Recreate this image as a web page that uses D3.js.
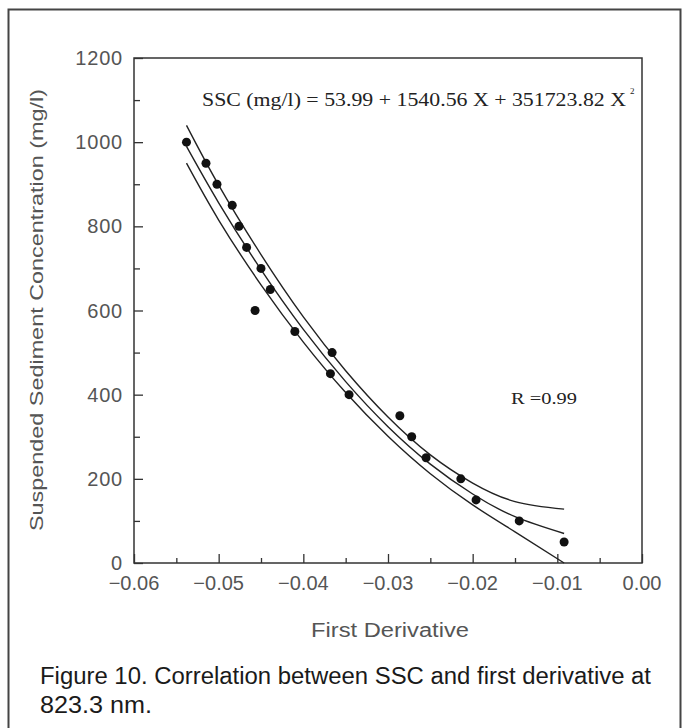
<!DOCTYPE html>
<html><head><meta charset="utf-8">
<script src="https://cdn.jsdelivr.net/npm/d3@7"></script>
<style>body{margin:0;background:#fff}</style>
</head><body>
<script>
// Observations: SSC (mg/l) vs first derivative
const firstDeriv = [-0.0538,-0.0515,-0.0502,-0.0484,-0.0476,-0.0467,-0.0450,-0.0439,-0.0457,-0.0410,-0.0366,-0.0368,-0.0346,-0.0286,-0.0272,-0.0255,-0.0214,-0.0196,-0.0145,-0.0092];
const ssc        = [1000,950,900,850,800,750,700,650,600,550,500,450,400,350,300,250,200,150,100,50];
// Fitted curve and band
const curveX = [-0.0538,-0.050,-0.045,-0.040,-0.035,-0.030,-0.025,-0.020,-0.015,-0.0092];
const fitY   = [990,856,697,555,431,324,235,164,110,70];
const upperY = [1040,898,733,585,457,347,257,190,146,128];
const lowerY = [950,815,661,525,405,301,212,138,74,0];
const xTicks = [-0.06,-0.05,-0.04,-0.03,-0.02,-0.01,0.00];
const xMinor = [-0.055,-0.045,-0.035,-0.025,-0.015,-0.005];
const yTicks = [0,200,400,600,800,1000,1200];
const yMinor = [100,300,500,700,900,1100];
const equation = "SSC (mg/l) = 53.99 + 1540.56 X + 351723.82 X";
const rLabel = "R =0.99";
const xTitle = "First Derivative";
const yTitle = "Suspended Sediment Concentration (mg/l)";
const caption = ["Figure 10. Correlation between SSC and first derivative at","823.3 nm."];

const W = 682, H = 728;
const svg = d3.select("body").append("svg").attr("width",W).attr("height",H);

// outer frame
svg.append("path").attr("d","M8.5,740 L8.5,9.5 L680.5,9.5 L680.5,740")
  .attr("fill","none").attr("stroke","#444").attr("stroke-width",2);

const x = d3.scaleLinear().domain([-0.06,0]).range([134,642]);
const y = d3.scaleLinear().domain([0,1200]).range([563,58]);

const sans = "'Liberation Sans', Arial, sans-serif";
const narrow = "'Liberation Sans Narrow', 'Liberation Sans', Arial, sans-serif";
const serif = "'Liberation Serif', 'Times New Roman', serif";
const grey = "#555";

// plot frame
svg.append("rect").attr("x",x(-0.06)).attr("y",y(1200))
  .attr("width",x(0)-x(-0.06)).attr("height",y(0)-y(1200))
  .attr("fill","none").attr("stroke","#333").attr("stroke-width",1.5);

// x axis ticks (inward)
const gx = svg.append("g").attr("transform",`translate(0,${y(0)})`)
  .call(d3.axisTop(x).tickValues(xTicks).tickSize(9).tickFormat(""));
gx.select(".domain").remove();
gx.selectAll("line").attr("stroke","#333").attr("stroke-width",1.3);
const gxm = svg.append("g").attr("transform",`translate(0,${y(0)})`)
  .call(d3.axisTop(x).tickValues(xMinor).tickSize(5).tickFormat(""));
gxm.select(".domain").remove();
gxm.selectAll("line").attr("stroke","#333").attr("stroke-width",1.3);

svg.append("g").selectAll("text").data(xTicks).join("text")
  .attr("x",d=>x(d)).attr("y",590)
  .attr("text-anchor","middle")
  .attr("font-family",sans).attr("font-size",20).attr("fill",grey)
  .text(d=>d===0?"0.00":"\u2212"+Math.abs(d).toFixed(2));

// y axis ticks (inward)
const gy = svg.append("g").attr("transform",`translate(${x(-0.06)},0)`)
  .call(d3.axisRight(y).tickValues(yTicks).tickSize(9).tickFormat(""));
gy.select(".domain").remove();
gy.selectAll("line").attr("stroke","#333").attr("stroke-width",1.3);
const gym = svg.append("g").attr("transform",`translate(${x(-0.06)},0)`)
  .call(d3.axisRight(y).tickValues(yMinor).tickSize(6).tickFormat(""));
gym.select(".domain").remove();
gym.selectAll("line").attr("stroke","#333").attr("stroke-width",1.3);

svg.append("g").selectAll("text").data(yTicks).join("text")
  .attr("x",123).attr("y",d=>y(d)+7)
  .attr("text-anchor","end")
  .attr("font-family",sans).attr("font-size",20).attr("fill",grey)
  .attr("letter-spacing",0.8)
  .text(d=>d);

// axis titles
svg.append("text").attr("x",390).attr("y",637).attr("text-anchor","middle")
  .attr("font-family",sans).attr("font-size",20).attr("fill",grey)
  .attr("textLength",158).attr("lengthAdjust","spacingAndGlyphs").text(xTitle);
svg.append("text").attr("transform","translate(43,310) rotate(-90)")
  .attr("text-anchor","middle")
  .attr("font-family",sans).attr("font-size",19).attr("fill",grey)
  .attr("textLength",442).attr("lengthAdjust","spacingAndGlyphs").text(yTitle);

// curves
const line = d3.line().x(d=>x(d[0])).y(d=>y(d[1])).curve(d3.curveNatural);
[upperY, fitY, lowerY].forEach(arr=>{
  svg.append("path").datum(curveX.map((v,i)=>[v,arr[i]]))
    .attr("d",line).attr("fill","none").attr("stroke","#222").attr("stroke-width",1.4);
});

// points
svg.append("g").selectAll("circle").data(firstDeriv.map((v,i)=>[v,ssc[i]])).join("circle")
  .attr("cx",d=>x(d[0])).attr("cy",d=>y(d[1])).attr("r",4.5).attr("fill","#111");

// equation
svg.append("text").attr("x",202).attr("y",106)
  .attr("font-family",serif).attr("font-size",18).attr("fill","#222")
  .attr("textLength",424).attr("lengthAdjust","spacingAndGlyphs").text(equation);
svg.append("text").attr("x",630).attr("y",94)
  .attr("font-family",serif).attr("font-size",9).attr("fill","#222").text("2");

svg.append("text").attr("x",511).attr("y",404)
  .attr("font-family",serif).attr("font-size",17).attr("fill","#222")
  .attr("textLength",66).attr("lengthAdjust","spacingAndGlyphs").text(rLabel);

// caption
const capLen = [611, 112];
svg.append("g").selectAll("text").data(caption).join("text")
  .attr("x",40).attr("y",(d,i)=>684+i*29)
  .attr("font-family",narrow).attr("font-size",23).attr("fill","#1a1a1a")
  .attr("textLength",(d,i)=>capLen[i]).attr("lengthAdjust","spacingAndGlyphs")
  .text(d=>d);
</script>
</body></html>
